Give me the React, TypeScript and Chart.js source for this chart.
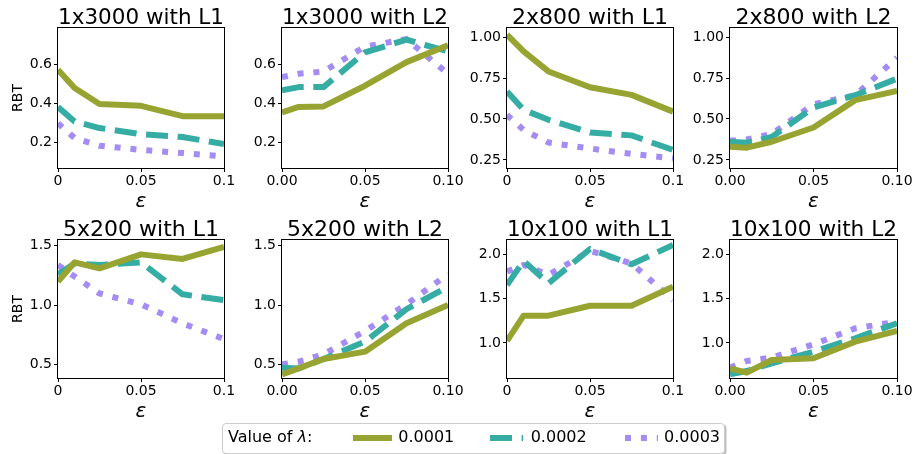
import React, { useEffect, useRef } from "react";
import { Chart, registerables } from "chart.js";

Chart.register(...registerables);

const FONT = "'DejaVu Sans', sans-serif";

// x values (epsilon)
const epsilonValues = [0, 0.01, 0.025, 0.05, 0.075, 0.1];
const xTickValues = [0, 0.05, 0.1];
const xTickLabelsL1 = ["0", "0.05", "0.1"];
const xTickLabelsL2 = ["0.00", "0.05", "0.10"];

const lambdaLabels = ["0.0001", "0.0002", "0.0003"];
const lineColors = ["#97a431", "#36ada4", "#a48cf4"];

const panelTitles = [
  "1x3000 with L1",
  "1x3000 with L2",
  "2x800 with L1",
  "2x800 with L2",
  "5x200 with L1",
  "5x200 with L2",
  "10x100 with L1",
  "10x100 with L2",
];

// RBT series, one list per lambda (0.0001, 0.0002, 0.0003)
const rbt1x3000L1 = [
  [0.571, 0.477, 0.395, 0.386, 0.333, 0.332],
  [0.38, 0.306, 0.272, 0.241, 0.226, 0.19],
  [0.297, 0.22, 0.181, 0.16, 0.144, 0.126],
];
const rbt1x3000L2 = [
  [0.352, 0.38, 0.383, 0.489, 0.61, 0.696],
  [0.465, 0.482, 0.482, 0.66, 0.725, 0.665],
  [0.533, 0.55, 0.562, 0.69, 0.728, 0.55],
];
const rbt2x800L1 = [
  [1.014, 0.912, 0.79, 0.694, 0.647, 0.545],
  [0.668, 0.556, 0.495, 0.417, 0.4, 0.311],
  [0.525, 0.433, 0.356, 0.32, 0.287, 0.26],
];
const rbt2x800L2 = [
  [0.33, 0.325, 0.361, 0.448, 0.615, 0.671],
  [0.361, 0.355, 0.391, 0.57, 0.645, 0.746],
  [0.367, 0.375, 0.408, 0.59, 0.645, 0.874],
];
const rbt5x200L1 = [
  [1.197, 1.36, 1.309, 1.427, 1.388, 1.49],
  [1.258, 1.351, 1.337, 1.36, 1.09, 1.042],
  [1.337, 1.24, 1.098, 1.006, 0.846, 0.713],
];
const rbt5x200L2 = [
  [0.416, 0.466, 0.545, 0.607, 0.846, 1.0],
  [0.472, 0.466, 0.545, 0.691, 0.966, 1.154],
  [0.5, 0.522, 0.584, 0.781, 1.006, 1.261],
];
const rbt10x100L1 = [
  [1.023, 1.308, 1.308, 1.42, 1.42, 1.635],
  [1.654, 1.925, 1.673, 2.06, 1.887, 2.105],
  [1.805, 1.88, 1.767, 2.038, 1.898, 1.485],
];
const rbt10x100L2 = [
  [0.714, 0.665, 0.808, 0.827, 1.015, 1.135],
  [0.647, 0.684, 0.771, 0.902, 1.053, 1.222],
  [0.722, 0.797, 0.835, 0.985, 1.165, 1.24],
];

// y axis ticks per architecture
const yTicks1x3000 = [0.2, 0.4, 0.6];
const yTickLabels1x3000 = ["0.2", "0.4", "0.6"];
const yTicks2x800 = [0.25, 0.5, 0.75, 1.0];
const yTickLabels2x800 = ["0.25", "0.50", "0.75", "1.00"];
const yTicks5x200 = [0.5, 1.0, 1.5];
const yTickLabels5x200 = ["0.5", "1.0", "1.5"];
const yTicks10x100 = [1.0, 1.5, 2.0];
const yTickLabels10x100 = ["1.0", "1.5", "2.0"];

const yRange1x3000 = [0.067, 0.785];
const yRange2x800 = [0.201, 1.055];
const yRange5x200 = [0.385, 1.548];
const yRange10x100 = [0.605, 2.161];

// layout of the plot areas (page pixels)
const colLefts = [58, 282, 507, 730];
const colWidths = [166, 166, 166, 167];
const rowTops = [28, 240];
const rowHeights = [140, 138];

const dashPatterns = [[], [22, 9.6], [6, 9.9]];

const panels = [
  { series: rbt1x3000L1, ticks: yTicks1x3000, tickLabels: yTickLabels1x3000, range: yRange1x3000, xLabels: xTickLabelsL1 },
  { series: rbt1x3000L2, ticks: yTicks1x3000, tickLabels: yTickLabels1x3000, range: yRange1x3000, xLabels: xTickLabelsL2 },
  { series: rbt2x800L1, ticks: yTicks2x800, tickLabels: yTickLabels2x800, range: yRange2x800, xLabels: xTickLabelsL1 },
  { series: rbt2x800L2, ticks: yTicks2x800, tickLabels: yTickLabels2x800, range: yRange2x800, xLabels: xTickLabelsL2 },
  { series: rbt5x200L1, ticks: yTicks5x200, tickLabels: yTickLabels5x200, range: yRange5x200, xLabels: xTickLabelsL1 },
  { series: rbt5x200L2, ticks: yTicks5x200, tickLabels: yTickLabels5x200, range: yRange5x200, xLabels: xTickLabelsL2 },
  { series: rbt10x100L1, ticks: yTicks10x100, tickLabels: yTickLabels10x100, range: yRange10x100, xLabels: xTickLabelsL1 },
  { series: rbt10x100L2, ticks: yTicks10x100, tickLabels: yTickLabels10x100, range: yRange10x100, xLabels: xTickLabelsL2 },
];

const Y_AXIS_W = 60;
const TOP_H = 28;
const X_AXIS_H = 50;
const RIGHT_PAD = 25;

const framePlugin = {
  id: "frame",
  afterDatasetsDraw(chart: any) {
    const { ctx, chartArea } = chart;
    const { left, top, right, bottom } = chartArea;
    ctx.save();
    ctx.strokeStyle = "#000";
    ctx.lineWidth = 1;
    ctx.strokeRect(left - 0.5, top - 0.5, right - left + 1, bottom - top + 1);
    ctx.restore();
  },
};

function makeConfig(idx: number): any {
  const p = panels[idx];
  const showYTitle = idx % 4 === 0;
  const gridOpts = {
    drawOnChartArea: false,
    drawTicks: true,
    tickLength: 4,
    color: "#000",
    tickColor: "#000",
    lineWidth: 1,
  };
  return {
    type: "line",
    data: {
      datasets: p.series.map((vals: number[], i: number) => ({
        label: lambdaLabels[i],
        data: epsilonValues.map((x, j) => ({ x, y: vals[j] })),
        borderColor: lineColors[i],
        backgroundColor: lineColors[i],
        borderWidth: 6,
        borderDash: dashPatterns[i],
        borderCapStyle: "butt",
        borderJoinStyle: "round",
        pointRadius: 0,
        pointHoverRadius: 0,
        tension: 0,
        fill: false,
        clip: 0,
      })),
    },
    options: {
      animation: false,
      responsive: false,
      maintainAspectRatio: false,
      devicePixelRatio: 1,
      events: [],
      layout: { padding: { top: 0, right: RIGHT_PAD, bottom: 0, left: 0 } },
      plugins: {
        legend: { display: false },
        tooltip: { enabled: false },
        title: {
          display: true,
          text: panelTitles[idx],
          fullSize: false,
          color: "#000",
          font: { family: FONT, size: 22, weight: "normal", lineHeight: 20 / 22 },
          padding: { top: 8, bottom: 0 },
        },
      },
      scales: {
        x: {
          type: "linear",
          min: 0,
          max: 0.1,
          afterBuildTicks: (s: any) => {
            s.ticks = xTickValues.map((v) => ({ value: v }));
          },
          afterFit: (s: any) => {
            s.height = X_AXIS_H;
          },
          ticks: {
            callback: (_v: any, i: number) => p.xLabels[i],
            font: { family: FONT, size: 14, lineHeight: 1 },
            color: "#000",
            padding: 2,
            maxRotation: 0,
            autoSkip: false,
          },
          grid: gridOpts,
          border: { display: false },
          title: {
            display: true,
            text: "ε",
            color: "#000",
            font: { family: FONT, size: 20, style: "italic", lineHeight: 1.2 },
            padding: { top: 0, bottom: 4 },
          },
        },
        y: {
          type: "linear",
          min: p.range[0],
          max: p.range[1],
          afterBuildTicks: (s: any) => {
            s.ticks = p.ticks.map((v: number) => ({ value: v }));
          },
          afterFit: (s: any) => {
            s.width = Y_AXIS_W;
          },
          ticks: {
            callback: (_v: any, i: number) => p.tickLabels[i],
            font: { family: FONT, size: 14, lineHeight: 1.2 },
            color: "#000",
            padding: 2,
            autoSkip: false,
          },
          grid: gridOpts,
          border: { display: false },
          title: {
            display: showYTitle,
            text: "RBT",
            color: "#000",
            font: { family: FONT, size: 14, lineHeight: 1.2 },
            padding: { top: 12, bottom: 0 },
          },
        },
      },
    },
    plugins: [framePlugin],
  };
}

function Swatch({ left, dash, color, cap }: { left: number; dash: string; color: string; cap: string }) {
  return (
    <svg
      width={33}
      height={8}
      style={{ position: "absolute", left, top: 9.5, overflow: "visible" }}
    >
      <line
        x1={0}
        y1={4}
        x2={33}
        y2={4}
        stroke={color}
        strokeWidth={6}
        strokeDasharray={dash}
        strokeLinecap={cap as any}
      />
    </svg>
  );
}

export default function App() {
  const refs = useRef<(HTMLCanvasElement | null)[]>([]);

  useEffect(() => {
    const charts: Chart[] = [];
    panels.forEach((_p, i) => {
      const c = refs.current[i];
      if (c) charts.push(new Chart(c, makeConfig(i)));
    });
    return () => charts.forEach((ch) => ch.destroy());
  }, []);

  return (
    <div
      style={{
        position: "fixed",
        left: 0,
        top: 0,
        width: 915,
        height: 454,
        background: "#fff",
        overflow: "hidden",
        fontFamily: FONT,
      }}
    >
      {panels.map((_p, i) => {
        const col = i % 4;
        const row = Math.floor(i / 4);
        const w = colWidths[col] + Y_AXIS_W + RIGHT_PAD;
        const h = rowHeights[row] + TOP_H + X_AXIS_H;
        return (
          <canvas
            key={i}
            ref={(el) => {
              refs.current[i] = el;
            }}
            width={w}
            height={h}
            style={{
              position: "absolute",
              left: colLefts[col] - Y_AXIS_W,
              top: rowTops[row] - TOP_H,
              width: w,
              height: h,
            }}
          />
        );
      })}
      <div
        style={{
          position: "absolute",
          left: 222,
          top: 423,
          width: 503,
          height: 31,
          boxSizing: "border-box",
          border: "1px solid #cccccc",
          borderRadius: 4,
          background: "#fff",
          boxShadow: "1.5px 1.5px 0 rgba(0,0,0,0.25)",
          fontSize: 16,
          color: "#000",
        }}
      >
        <span style={{ position: "absolute", left: 5, top: 4.8, lineHeight: "16px", whiteSpace: "nowrap" }}>
          Value of <i>λ</i>:
        </span>
        <Swatch left={133} dash="" color={lineColors[0]} cap="square" />
        <span style={{ position: "absolute", left: 175.3, top: 4.8, lineHeight: "16px" }}>{lambdaLabels[0]}</span>
        <Swatch left={267} dash="22 9.6" color={lineColors[1]} cap="butt" />
        <span style={{ position: "absolute", left: 307.7, top: 4.8, lineHeight: "16px" }}>{lambdaLabels[1]}</span>
        <Swatch left={401.7} dash="6 9.9" color={lineColors[2]} cap="butt" />
        <span style={{ position: "absolute", left: 441, top: 4.8, lineHeight: "16px" }}>{lambdaLabels[2]}</span>
      </div>
    </div>
  );
}
